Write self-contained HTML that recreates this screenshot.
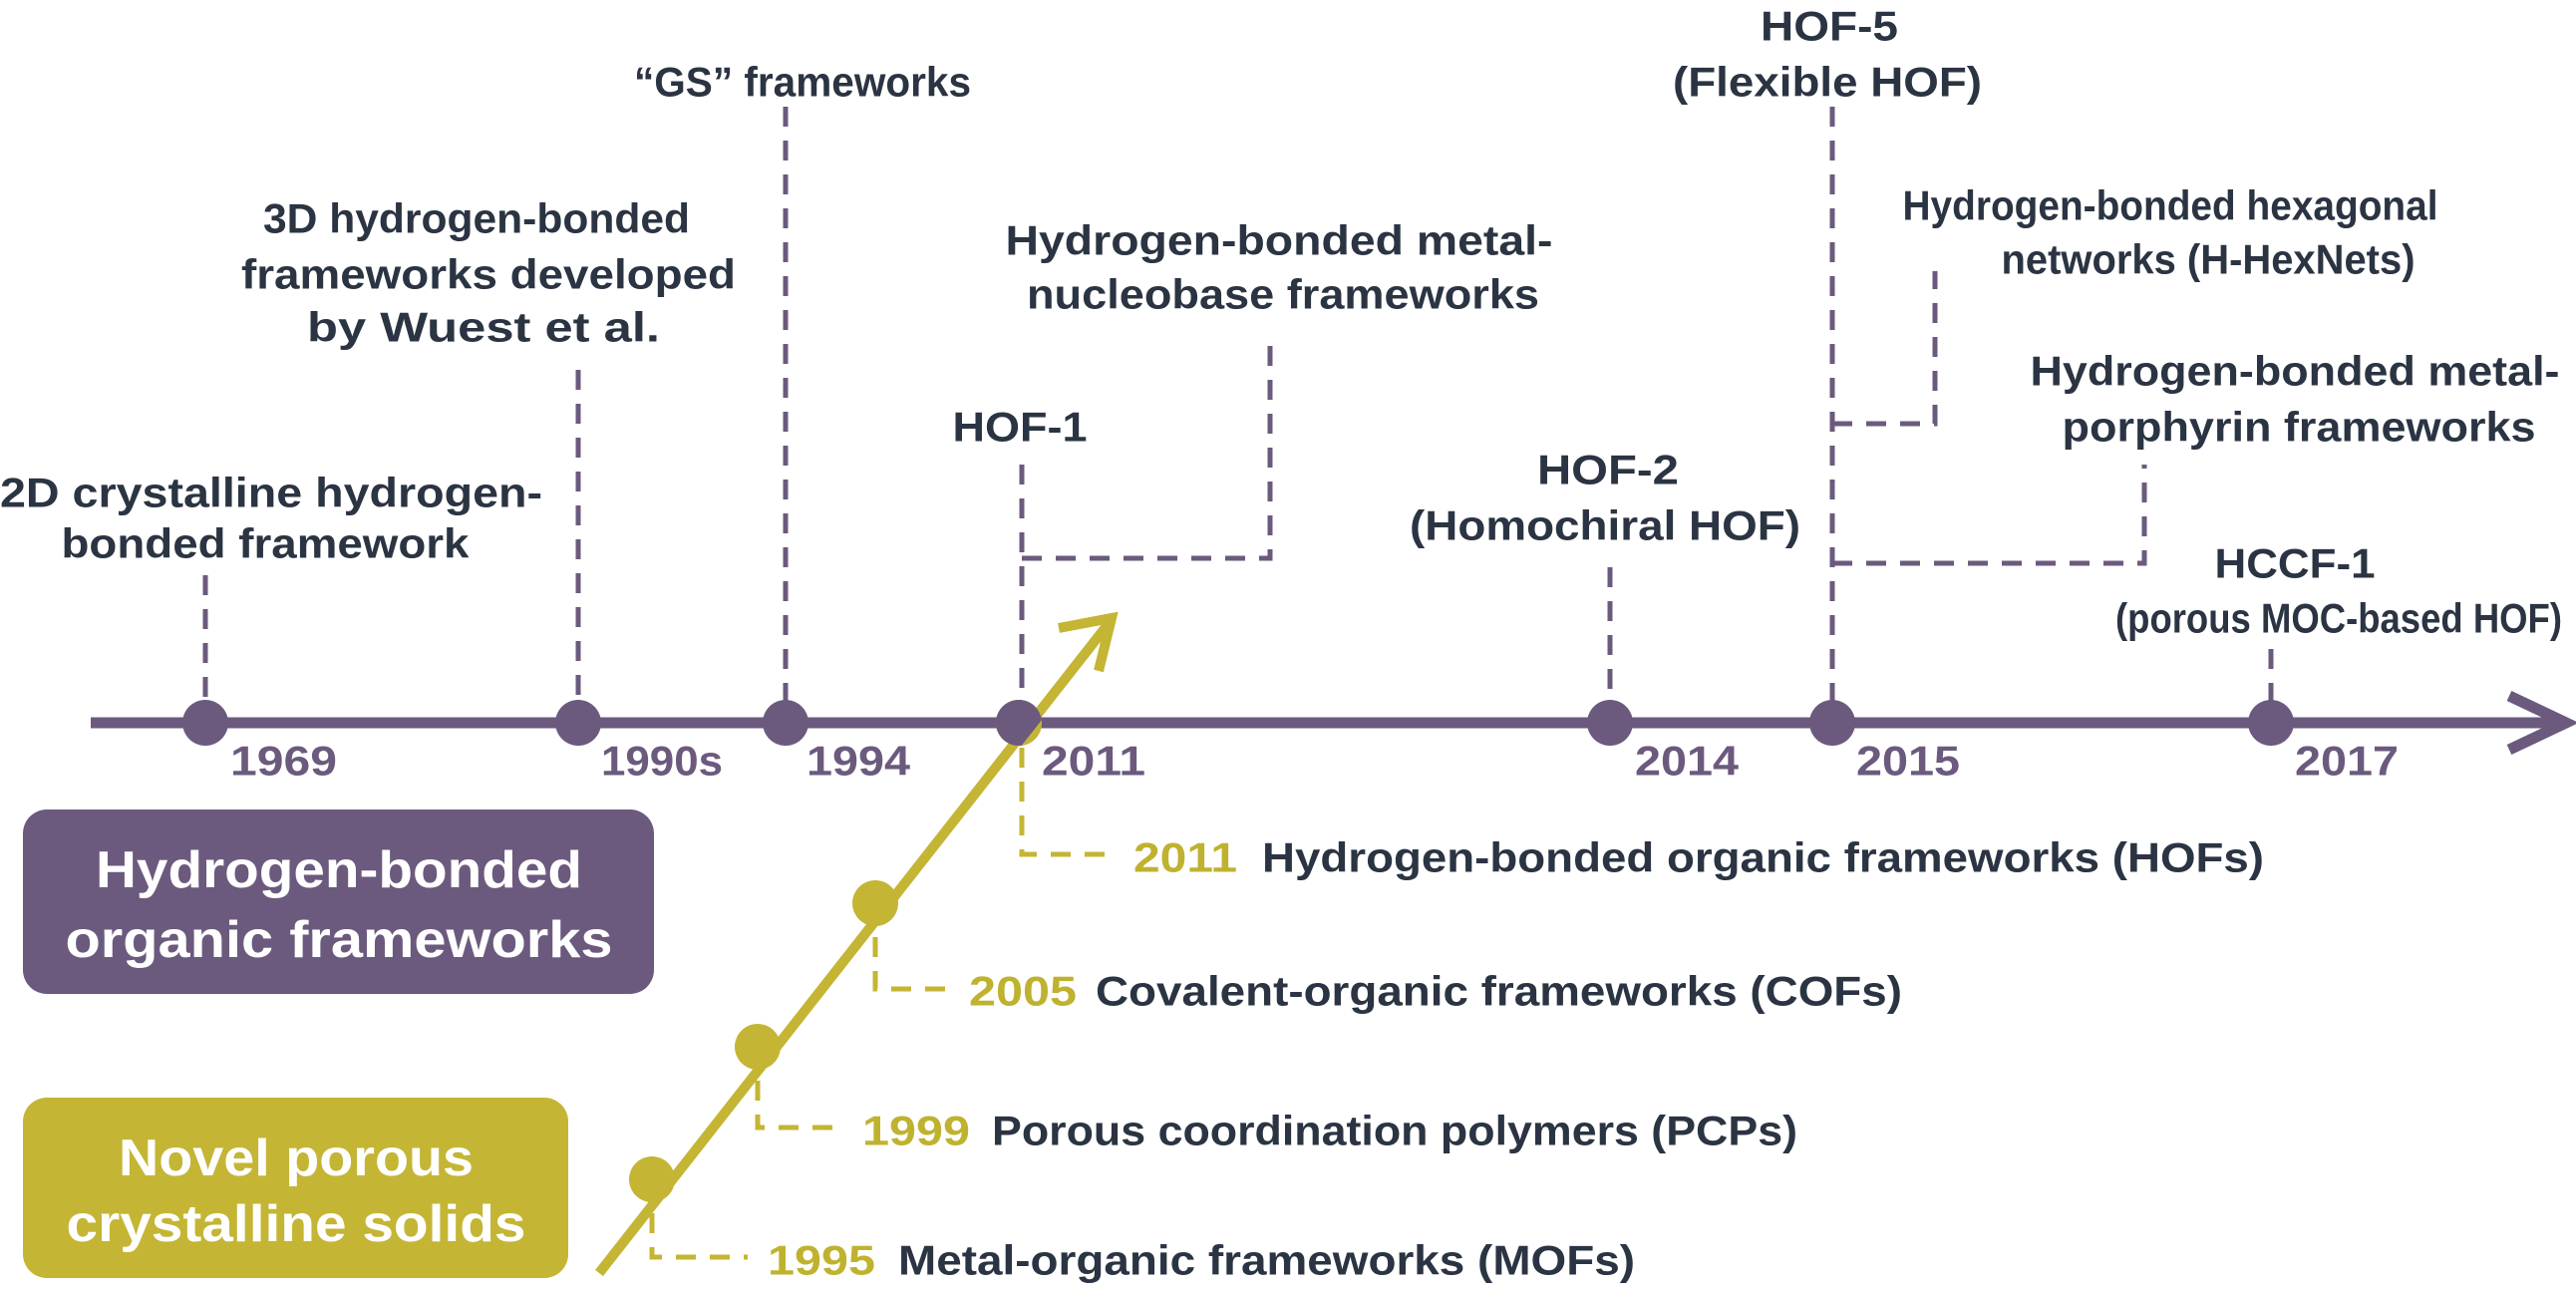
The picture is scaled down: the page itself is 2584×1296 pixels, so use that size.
<!DOCTYPE html>
<html><head><meta charset="utf-8"><style>
html,body{margin:0;padding:0;background:#fff;}
svg{display:block;}
text{font-family:"Liberation Sans",sans-serif;font-weight:bold;dominant-baseline:central;}
.d{fill:#2b3442;font-size:42px;}
.y{fill:#6b5a7e;font-size:42px;}
.o{fill:#bfb22f;font-size:42px;}
.w{fill:#fff;font-size:52px;}
.pd{stroke:#6b5a7e;stroke-width:5;stroke-dasharray:20 14;fill:none;}
.od{stroke:#c4b534;stroke-width:5;stroke-dasharray:20 14;fill:none;}
</style></head><body>
<svg width="2584" height="1296" viewBox="0 0 2584 1296" xmlns="http://www.w3.org/2000/svg">
<!-- purple dashed connectors -->
<path class="pd" d="M206 577V725M580 371V725M788 107V725M1025 466V725M1025 560H1274V338M1615 569V725M1838 107V725M1838 425H1941V272M1838 565H2151V466M2278 651V725"/>
<!-- timeline -->
<line x1="91" y1="725" x2="2572" y2="725" stroke="#6b5a7e" stroke-width="11"/>
<polyline points="2517,698 2574,725 2517,752" fill="none" stroke="#6b5a7e" stroke-width="11"/>
<g fill="#6b5a7e">
<circle cx="206" cy="725" r="23"/><circle cx="580" cy="725" r="23"/><circle cx="788" cy="725" r="23"/>
<circle cx="1022" cy="725" r="23"/><circle cx="1615" cy="725" r="23"/><circle cx="1838" cy="725" r="23"/><circle cx="2278" cy="725" r="23"/>
</g>
<!-- olive dashed -->
<path class="od" d="M1025 750V857H1121M878 906V992H956M760 1050V1131H849M654 1183V1261H750"/>
<!-- diagonal -->
<line x1="601" y1="1277" x2="1110" y2="628" stroke="#c4b534" stroke-width="10"/>
<polyline points="1062,630 1115,620 1102,673" fill="none" stroke="#c4b534" stroke-width="10"/>
<clipPath id="c"><polygon points="1100,620 1110,640 944,850 900,850 900,600"/></clipPath>
<circle cx="1022" cy="725" r="23" fill="#c4b534"/>
<circle cx="1022" cy="725" r="23" fill="#6b5a7e" clip-path="url(#c)"/>
<g fill="#c4b534"><circle cx="654" cy="1183" r="23"/><circle cx="760" cy="1050" r="23"/><circle cx="878" cy="906" r="23"/></g>
<!-- year labels -->
<text class="y" x="231" y="763" textLength="107" lengthAdjust="spacingAndGlyphs">1969</text>
<text class="y" x="603" y="763" textLength="122" lengthAdjust="spacingAndGlyphs">1990s</text>
<text class="y" x="809" y="763" textLength="104" lengthAdjust="spacingAndGlyphs">1994</text>
<text class="y" x="1045" y="763" textLength="104" lengthAdjust="spacingAndGlyphs">2011</text>
<text class="y" x="1640" y="763" textLength="104" lengthAdjust="spacingAndGlyphs">2014</text>
<text class="y" x="1862" y="763" textLength="104" lengthAdjust="spacingAndGlyphs">2015</text>
<text class="y" x="2302" y="763" textLength="104" lengthAdjust="spacingAndGlyphs">2017</text>
<!-- top labels -->
<g text-anchor="middle">
<text class="d" x="272" y="494" textLength="544" lengthAdjust="spacingAndGlyphs">2D crystalline hydrogen-</text>
<text class="d" x="266" y="545" textLength="409" lengthAdjust="spacingAndGlyphs">bonded framework</text>
<text class="d" x="478" y="219" textLength="428" lengthAdjust="spacingAndGlyphs">3D hydrogen-bonded</text>
<text class="d" x="490" y="275" textLength="496" lengthAdjust="spacingAndGlyphs">frameworks developed</text>
<text class="d" x="485" y="328" textLength="354" lengthAdjust="spacingAndGlyphs">by Wuest et al.</text>
<text class="d" x="805" y="82" textLength="338" lengthAdjust="spacingAndGlyphs">“GS” frameworks</text>
<text class="d" x="1283" y="241" textLength="549" lengthAdjust="spacingAndGlyphs">Hydrogen-bonded metal-</text>
<text class="d" x="1287" y="295" textLength="514" lengthAdjust="spacingAndGlyphs">nucleobase frameworks</text>
<text class="d" x="1023" y="428" textLength="135" lengthAdjust="spacingAndGlyphs">HOF-1</text>
<text class="d" x="1613" y="471" textLength="142" lengthAdjust="spacingAndGlyphs">HOF-2</text>
<text class="d" x="1610" y="527" textLength="392" lengthAdjust="spacingAndGlyphs">(Homochiral HOF)</text>
<text class="d" x="1835" y="26" textLength="138" lengthAdjust="spacingAndGlyphs">HOF-5</text>
<text class="d" x="1833" y="82" textLength="310" lengthAdjust="spacingAndGlyphs">(Flexible HOF)</text>
<text class="d" x="2177" y="206" textLength="537" lengthAdjust="spacingAndGlyphs">Hydrogen-bonded hexagonal</text>
<text class="d" x="2215" y="260" textLength="415" lengthAdjust="spacingAndGlyphs">networks (H-HexNets)</text>
<text class="d" x="2302" y="372" textLength="531" lengthAdjust="spacingAndGlyphs">Hydrogen-bonded metal-</text>
<text class="d" x="2306" y="428" textLength="475" lengthAdjust="spacingAndGlyphs">porphyrin frameworks</text>
<text class="d" x="2302" y="565" textLength="161" lengthAdjust="spacingAndGlyphs">HCCF-1</text>
<text class="d" x="2346" y="620" textLength="448" lengthAdjust="spacingAndGlyphs">(porous MOC-based HOF)</text>
</g>
<!-- bottom labels -->
<text class="o" x="1137" y="860" textLength="104" lengthAdjust="spacingAndGlyphs">2011</text>
<text class="d" x="1266" y="860" textLength="1005" lengthAdjust="spacingAndGlyphs">Hydrogen-bonded organic frameworks (HOFs)</text>
<text class="o" x="972" y="994" textLength="108" lengthAdjust="spacingAndGlyphs">2005</text>
<text class="d" x="1099" y="994" textLength="809" lengthAdjust="spacingAndGlyphs">Covalent-organic frameworks (COFs)</text>
<text class="o" x="865" y="1134" textLength="108" lengthAdjust="spacingAndGlyphs">1999</text>
<text class="d" x="995" y="1134" textLength="808" lengthAdjust="spacingAndGlyphs">Porous coordination polymers (PCPs)</text>
<text class="o" x="770" y="1264" textLength="108" lengthAdjust="spacingAndGlyphs">1995</text>
<text class="d" x="901" y="1264" textLength="739" lengthAdjust="spacingAndGlyphs">Metal-organic frameworks (MOFs)</text>
<!-- boxes -->
<rect x="23" y="812" width="633" height="185" rx="24" fill="#6b5a7e"/>
<text class="w" x="340" y="873" text-anchor="middle" textLength="488" lengthAdjust="spacingAndGlyphs">Hydrogen-bonded</text>
<text class="w" x="340" y="943" text-anchor="middle" textLength="549" lengthAdjust="spacingAndGlyphs">organic frameworks</text>
<rect x="23" y="1101" width="547" height="181" rx="24" fill="#c4b534"/>
<text class="w" x="297" y="1162" text-anchor="middle" textLength="356" lengthAdjust="spacingAndGlyphs">Novel porous</text>
<text class="w" x="297" y="1228" text-anchor="middle" textLength="461" lengthAdjust="spacingAndGlyphs">crystalline solids</text>
</svg>
</body></html>
